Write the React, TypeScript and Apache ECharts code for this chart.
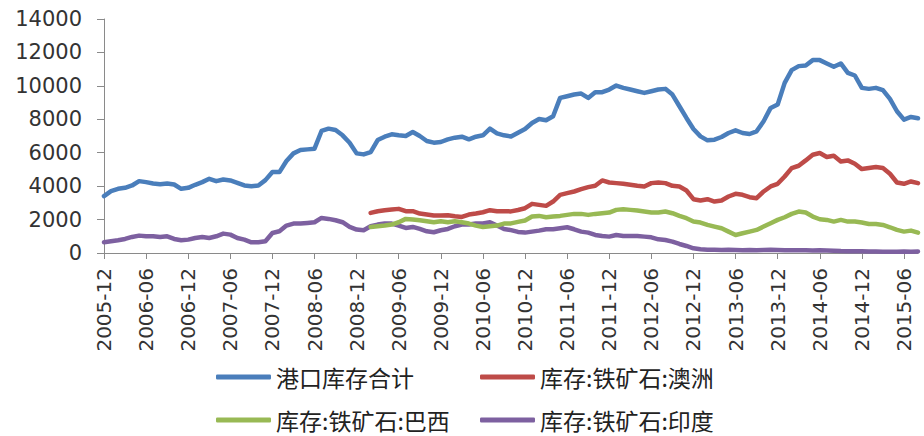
import React, { useEffect, useRef } from "react";
import * as echarts from "echarts";

// Monthly categories 2005-12 .. 2015-08
const months: string[] = [];
{
  let y = 2005, m = 12;
  for (let i = 0; i < 117; i++) {
    months.push(`${y}-${m < 10 ? "0" + m : m}`);
    m++;
    if (m > 12) { m = 1; y++; }
  }
}

const seriesNames = ["港口库存合计", "库存:铁矿石:澳洲", "库存:铁矿石:巴西", "库存:铁矿石:印度"];

const totalStock = [
  3400, 3700, 3840, 3900, 4040, 4300, 4240, 4160, 4120, 4160, 4100, 3840, 3900, 4080, 4240, 4440, 4300, 4400, 4340, 4200,
  4040, 4000, 4040, 4360, 4840, 4840, 5500, 5960, 6160, 6200, 6240, 7300, 7440, 7360, 7040, 6600, 5960, 5900, 6040, 6760,
  6960, 7100, 7040, 7000, 7240, 7000, 6700, 6600, 6640, 6800, 6900, 6960, 6800, 6960, 7040, 7440, 7160, 7040, 6970, 7200,
  7420, 7780, 8020, 7940, 8180, 9280, 9380, 9480, 9540, 9280, 9620, 9620, 9780, 10020, 9880, 9780, 9680, 9580, 9680, 9780,
  9820, 9480, 8780, 8080, 7420, 6980, 6740, 6780, 6940, 7180, 7340, 7180, 7120, 7280, 7880, 8680, 8880, 10180, 10940, 11180,
  11220, 11540, 11540, 11340, 11140, 11340, 10780, 10620, 9880, 9820, 9880, 9740, 9220, 8480, 7980, 8140, 8060,
];

const australia: (number | null)[] = [
  ...Array(38).fill(null),
  2400, 2500, 2560, 2600, 2640, 2500, 2500, 2360, 2300, 2240, 2240, 2260, 2200, 2160, 2300, 2360, 2440, 2560, 2500, 2500,
  2490, 2570, 2680, 2940, 2880, 2820, 3080, 3480, 3580, 3680, 3820, 3940, 4020, 4340, 4220, 4180, 4140, 4080, 4020, 3980,
  4180, 4220, 4180, 4020, 3980, 3740, 3220, 3140, 3220, 3080, 3140, 3380, 3540, 3480, 3340, 3280, 3680, 3980, 4140, 4580,
  5080, 5220, 5540, 5880, 5980, 5740, 5820, 5480, 5540, 5340, 5020, 5080, 5140, 5080, 4740, 4220, 4140, 4280, 4180,
];

const brazil: (number | null)[] = [
  ...Array(38).fill(null),
  1560, 1600, 1640, 1700, 1840, 2040, 2000, 1960, 1900, 1840, 1900, 1840, 1900, 1840, 1760, 1640, 1560, 1600, 1640, 1760,
  1770, 1860, 1940, 2180, 2220, 2140, 2180, 2220, 2280, 2340, 2340, 2280, 2340, 2380, 2420, 2580, 2620, 2580, 2540, 2480,
  2420, 2420, 2480, 2380, 2220, 2080, 1880, 1820, 1680, 1580, 1480, 1280, 1080, 1180, 1280, 1380, 1580, 1780, 1980, 2140,
  2340, 2480, 2420, 2180, 2020, 1980, 1880, 1980, 1880, 1880, 1820, 1740, 1740, 1680, 1540, 1380, 1280, 1340, 1220,
];

const india = [
  640, 700, 760, 840, 960, 1040, 1000, 1000, 960, 1000, 840, 760, 800, 900, 960, 900, 1000, 1160, 1100, 900,
  800, 640, 640, 700, 1200, 1300, 1640, 1760, 1760, 1800, 1840, 2100, 2040, 1960, 1840, 1560, 1400, 1360, 1600, 1700,
  1760, 1760, 1640, 1500, 1560, 1440, 1300, 1240, 1360, 1440, 1600, 1700, 1700, 1760, 1760, 1840, 1640, 1440, 1370, 1260,
  1220, 1280, 1340, 1420, 1420, 1480, 1540, 1420, 1280, 1220, 1080, 1020, 980, 1080, 1020, 1020, 1020, 980, 940, 820,
  780, 680, 540, 420, 280, 220, 200, 190, 180, 190, 180, 170, 180, 170, 180, 190, 180, 170, 170, 160,
  160, 150, 160, 150, 140, 120, 110, 100, 100, 90, 90, 80, 80, 80, 90, 80, 90,
];

const yTicks = { min: 0, max: 14000, interval: 2000 };
const colors = ["#4A7EBB", "#BE4B48", "#98B954", "#7D60A0"];

export default function App() {
  const ref = useRef<HTMLDivElement>(null);
  useEffect(() => {
    if (!ref.current) return;
    const chart = echarts.init(ref.current, undefined, { renderer: "svg" });
    const dataArr = [totalStock, australia, brazil, india];
    const legendText = {
      fontFamily: "'Noto Sans CJK SC', sans-serif",
      fontSize: 23,
      color: "#222",
      lineHeight: 24,
    };
    const legendPos = [
      { left: 216, top: 365 },
      { left: 480, top: 365 },
      { left: 216, top: 408 },
      { left: 480, top: 408 },
    ];
    chart.setOption({
      animation: false,
      backgroundColor: "#fff",
      grid: { left: 104, right: 6, top: 19, bottom: 183, containLabel: false },
      legend: seriesNames.map((name, k) => ({
        left: legendPos[k].left,
        top: legendPos[k].top,
        padding: 0,
        itemWidth: 55,
        itemHeight: 5,
        icon: "roundRect",
        textStyle: legendText,
        data: [name],
      })),
      xAxis: {
        type: "category",
        data: months,
        boundaryGap: false,
        axisLine: { lineStyle: { color: "#8a8a8a", width: 1 } },
        axisTick: { show: true, interval: 5, length: 6, lineStyle: { color: "#8a8a8a" } },
        axisLabel: {
          interval: 5,
          rotate: 90,
          margin: 15,
          fontFamily: "'DejaVu Sans', sans-serif",
          fontSize: 20,
          color: "#333",
        },
        splitLine: { show: false },
      },
      yAxis: {
        type: "value",
        min: yTicks.min,
        max: yTicks.max,
        interval: yTicks.interval,
        axisLine: { show: true, lineStyle: { color: "#8a8a8a", width: 1 } },
        axisTick: { show: true, length: 7, lineStyle: { color: "#8a8a8a" } },
        axisLabel: {
          margin: 22,
          fontFamily: "'DejaVu Sans', sans-serif",
          fontSize: 21,
          color: "#333",
          formatter: (v: number) => String(v),
        },
        splitLine: { show: false },
      },
      series: seriesNames.map((name, k) => ({
        name,
        type: "line",
        data: dataArr[k],
        showSymbol: false,
        symbol: "none",
        connectNulls: false,
        lineStyle: { color: colors[k], width: 4.5, cap: "round", join: "round" },
        itemStyle: { color: colors[k] },
        z: 10 - k,
      })),
    });
    return () => chart.dispose();
  }, []);
  return <div ref={ref} style={{ width: 924, height: 436, position: "absolute", left: 0, top: 0 }} />;
}
